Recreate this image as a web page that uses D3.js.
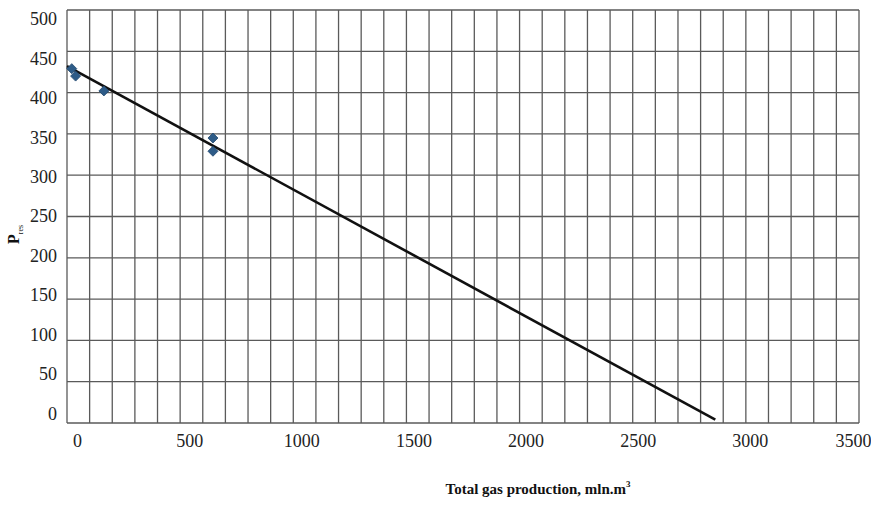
<!DOCTYPE html>
<html>
<head>
<meta charset="utf-8">
<script src="https://cdn.jsdelivr.net/npm/d3@7"></script>
<style>
  html, body { margin: 0; padding: 0; background: #fff; }
  svg { display: block; }
</style>
</head>
<body>
<svg id="chart" width="871" height="506"></svg>
<script>
// ---- data ----
const xTicks = [0, 500, 1000, 1500, 2000, 2500, 3000, 3500];
const yTicks = [0, 50, 100, 150, 200, 250, 300, 350, 400, 450, 500];
const obsProduction = [21, 38, 163, 645, 645];
const obsPressure   = [429, 420, 402, 345, 329];
const trendProduction = [0, 2865];
const trendPressure   = [432, 4];
const xTitle = "Total gas production, mln.m";
const xTitleSup = "3";
const yTitle = "P";
const yTitleSub = "res";

// ---- layout ----
const SERIF = '"Liberation Serif", "Times New Roman", serif';
const svg = d3.select("#chart");
const mLeft = 67, mRight = 859, mTop = 10, mBottom = 423;

const x = d3.scaleLinear().domain([0, 3500]).range([mLeft, mRight]);
const y = d3.scaleLinear().domain([0, 500]).range([mBottom, mTop]);
// label placement scales (labels in the reference are slightly offset from grid lines)
const xLab = d3.scaleLinear().domain([0, 3500]).range([77, 862]);
const yLab = d3.scaleLinear().domain([0, 500]).range([413, 18.7]);

// grid
const gridColor = "#5a5a5a";
const vGrid = d3.range(0, 3501, 100);
const hGrid = d3.range(0, 501, 50);
svg.append("g").selectAll("line").data(vGrid).join("line")
  .attr("x1", d => x(d)).attr("x2", d => x(d))
  .attr("y1", mTop).attr("y2", mBottom)
  .attr("stroke", gridColor).attr("stroke-width", 1.3);
svg.append("g").selectAll("line").data(hGrid).join("line")
  .attr("x1", mLeft).attr("x2", mRight)
  .attr("y1", d => y(d)).attr("y2", d => y(d))
  .attr("stroke", gridColor).attr("stroke-width", 1.3);

// axes labels
const xAxis = d3.axisBottom(xLab).tickValues(xTicks).tickSize(0).tickPadding(0).tickFormat(d3.format("d"));
const gx = svg.append("g").attr("transform", `translate(0,${mBottom})`).call(xAxis);
gx.select(".domain").remove();
gx.attr("font-family", null).attr("font-size", null);
gx.selectAll("text").style("font-family", SERIF).style("font-size", "18px")
  .attr("fill", "#222").attr("y", 24).attr("dy", 0)
  .filter(d => d === 3500).attr("text-anchor", "end").attr("x", 871 - xLab(3500));

const yAxis = d3.axisLeft(yLab).tickValues(yTicks).tickSize(0).tickPadding(0).tickFormat(d3.format("d"));
const gy = svg.append("g").attr("transform", `translate(57,0)`).call(yAxis);
gy.select(".domain").remove();
gy.attr("font-family", null).attr("font-size", null);
gy.selectAll("text").style("font-family", SERIF).style("font-size", "18px")
  .attr("fill", "#222").attr("dy", "0.34em");

// trend line
const trend = trendProduction.map((d, i) => [d, trendPressure[i]]);
svg.append("path").datum(trend)
  .attr("d", d3.line().x(d => x(d[0])).y(d => y(d[1])))
  .attr("stroke", "#111").attr("stroke-width", 2.6).attr("fill", "none");

// observed points
const pts = obsProduction.map((d, i) => [d, obsPressure[i]]);
svg.append("g").selectAll("path").data(pts).join("path")
  .attr("d", d3.symbol().type(d3.symbolSquare).size(50))
  .attr("transform", d => `translate(${x(d[0])},${y(d[1])}) rotate(45)`)
  .attr("fill", "#2e5c88").attr("stroke", "#244a70").attr("stroke-width", 0.8);

// axis titles
const xt = svg.append("text")
  .attr("x", 538).attr("y", 494).attr("text-anchor", "middle")
  .style("font-family", SERIF).style("font-size", "15px").style("font-weight", "bold")
  .attr("fill", "#111");
xt.append("tspan").text(xTitle);
xt.append("tspan").text(xTitleSup).style("font-size", "9px").attr("dy", -7);

const yt = svg.append("text")
  .attr("transform", "translate(19,244) rotate(-90)")
  .attr("text-anchor", "start")
  .style("font-family", SERIF).style("font-size", "16px").style("font-weight", "bold")
  .attr("fill", "#111");
yt.append("tspan").text(yTitle);
yt.append("tspan").text(yTitleSub).style("font-size", "8px").style("font-weight", "normal").attr("dy", 4);
</script>
</body>
</html>
